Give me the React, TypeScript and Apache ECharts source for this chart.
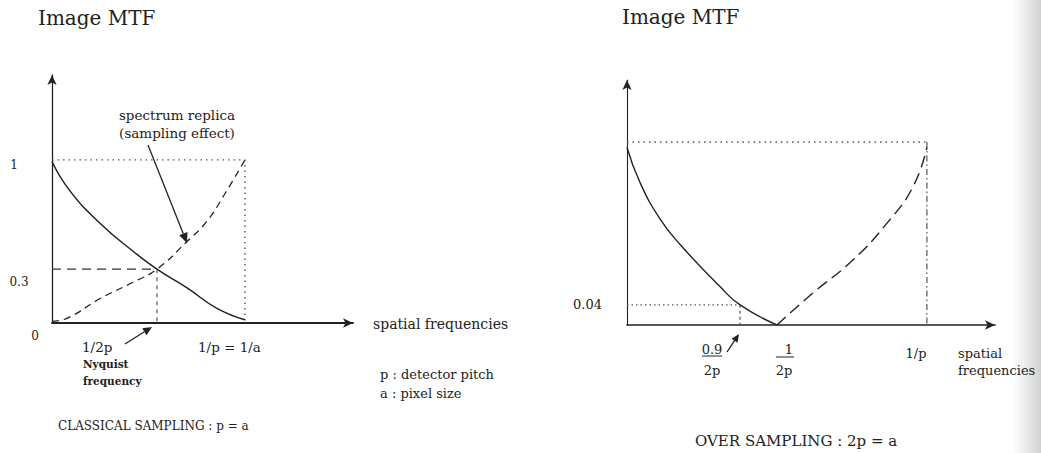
import React, { useEffect, useRef } from "react";
import * as echarts from "echarts";

// ---- data (dimensionless: 1/p = 1, top of MTF = 1) ----
// Classical sampling (left panel)
const LEFT_FREQ = [0, 0.093, 0.25, 0.42, 0.544, 0.7, 0.855, 1.0];
const LEFT_MTF = [0.99, 0.81, 0.61, 0.44, 0.33, 0.215, 0.09, 0.02];
const LEFT_REPLICA_FREQ = [0, 0.08, 0.25, 0.42, 0.544, 0.7, 0.8, 0.9, 1.0];
const LEFT_REPLICA = [0.01, 0.03, 0.15, 0.25, 0.33, 0.5, 0.62, 0.8, 1.0];
const LEFT_NYQUIST = 0.544;
const LEFT_CROSS = 0.33;

// Over sampling (right panel)
const RIGHT_FREQ = [0, 0.043, 0.11, 0.177, 0.31, 0.377, 0.5];
const RIGHT_MTF = [0.97, 0.78, 0.58, 0.44, 0.21, 0.11, 0.0];
const RIGHT_REPLICA_FREQ = [0.5, 0.62, 0.753, 0.867, 0.953, 1.0];
const RIGHT_REPLICA = [0.0, 0.175, 0.355, 0.557, 0.754, 0.97];
const RIGHT_MARK_FREQ = 0.377;
const RIGHT_MARK_LEVEL = 0.11;

const TOP_LEVEL = 1;
const INV_P = 1;

const zip = (xs: number[], ys: number[]) => xs.map((x, i) => [x, ys[i]]);

const SERIF = "'DejaVu Serif', 'Liberation Serif', serif";
const INK = "#222";

function arrow(x1: number, y1: number, x2: number, y2: number, head = 8) {
  const a = Math.atan2(y2 - y1, x2 - x1);
  const w = head * 0.45;
  const bx = x2 - head * Math.cos(a);
  const by = y2 - head * Math.sin(a);
  return [
    { type: "line", shape: { x1, y1, x2: bx, y2: by }, style: { stroke: INK, lineWidth: 1.3 }, silent: true },
    {
      type: "polygon",
      shape: {
        points: [
          [x2, y2],
          [bx + w * Math.sin(a), by - w * Math.cos(a)],
          [bx - w * Math.sin(a), by + w * Math.cos(a)],
        ],
      },
      style: { fill: INK },
      silent: true,
    },
  ];
}

function txt(text: string, x: number, y: number, size: number, align = "left", extra: any = {}) {
  return {
    type: "text",
    x,
    y,
    silent: true,
    style: {
      text,
      fill: INK,
      font: `${extra.bold ? "bold " : ""}${size}px ${extra.family || SERIF}`,
      textAlign: align,
      textVerticalAlign: "middle",
    },
  };
}

function hline(x1: number, x2: number, y: number) {
  return { type: "line", shape: { x1, y1: y, x2, y2: y }, style: { stroke: INK, lineWidth: 1 }, silent: true };
}

export default function App() {
  const ref = useRef<HTMLDivElement>(null);

  useEffect(() => {
    if (!ref.current) return;
    const chart = echarts.init(ref.current, undefined, { renderer: "svg" });

    const axisLine = (w: number) => ({
      show: true,
      onZero: true,
      symbol: ["none", "arrow"],
      symbolSize: [7, 10],
      lineStyle: { color: INK, width: w },
    });
    const hidden = {
      axisTick: { show: false },
      axisLabel: { show: false },
      splitLine: { show: false },
    };

    const guide = (xi: number, data: number[][], type: any, color = "#555", width = 1.4) => ({
      type: "line",
      xAxisIndex: xi,
      yAxisIndex: xi,
      data,
      symbol: "none",
      silent: true,
      lineStyle: { color, width, type },
      z: 1,
    });

    const curve = (xi: number, data: number[][], type: any, width = 1.4) => ({
      type: "line",
      xAxisIndex: xi,
      yAxisIndex: xi,
      data,
      symbol: "none",
      smooth: 0.5,
      silent: true,
      lineStyle: { color: INK, width, type },
      z: 3,
    });

    chart.setOption({
      animation: false,
      backgroundColor: "#ffffff",
      grid: [
        { left: 52, right: 688, top: 75, bottom: 130 },
        { left: 627, right: 46, top: 80, bottom: 128 },
      ],
      xAxis: [
        { type: "value", gridIndex: 0, min: 0, max: 1.56, axisLine: axisLine(1.8), ...hidden },
        { type: "value", gridIndex: 1, min: 0, max: 1.227, axisLine: axisLine(1.6), ...hidden },
      ],
      yAxis: [
        { type: "value", gridIndex: 0, min: 0, max: 1.52, axisLine: axisLine(1.3), ...hidden },
        { type: "value", gridIndex: 1, min: 0, max: 1.339, axisLine: axisLine(1.1), ...hidden },
      ],
      series: [
        // left guides
        guide(0, [[0, TOP_LEVEL], [INV_P, TOP_LEVEL], [INV_P, 0]], [1.5, 4]),
        guide(0, [[0, LEFT_CROSS], [LEFT_NYQUIST, LEFT_CROSS]], [9, 6], "#333", 1.3),
        guide(0, [[LEFT_NYQUIST, LEFT_CROSS], [LEFT_NYQUIST, 0]], [4, 4], "#444", 1.1),
        // left curves
        curve(0, zip(LEFT_FREQ, LEFT_MTF), "solid", 1.5),
        curve(0, zip(LEFT_REPLICA_FREQ, LEFT_REPLICA), [7, 5], 1.3),
        // right guides
        guide(1, [[0, TOP_LEVEL], [INV_P, TOP_LEVEL]], [1.5, 4]),
        guide(1, [[INV_P, TOP_LEVEL], [INV_P, 0]], [6, 3, 1.5, 3], "#444", 1.1),
        guide(1, [[0, RIGHT_MARK_LEVEL], [RIGHT_MARK_FREQ, RIGHT_MARK_LEVEL]], [1.5, 3], "#555", 1.2),
        guide(1, [[RIGHT_MARK_FREQ, RIGHT_MARK_LEVEL], [RIGHT_MARK_FREQ, 0]], [3, 3], "#444", 1.1),
        // right curves
        curve(1, zip(RIGHT_FREQ, RIGHT_MTF), "solid", 1.4),
        curve(1, zip(RIGHT_REPLICA_FREQ, RIGHT_REPLICA), [12, 6], 1.4),
      ],
      graphic: [
        // scanned page edge
        {
          type: "rect",
          shape: { x: 1012, y: 0, width: 29, height: 453 },
          style: {
            fill: new echarts.graphic.LinearGradient(0, 0, 1, 0, [
              { offset: 0, color: "rgba(210,210,210,0)" },
              { offset: 1, color: "rgba(200,200,200,0.85)" },
            ]),
          },
          silent: true,
          z: 0,
        },
        // left panel texts
        txt("Image MTF", 38, 18, 20),
        txt("spectrum replica", 177, 115, 13.5, "center"),
        txt("(sampling effect)", 177, 133, 13.5, "center"),
        ...arrow(148, 145, 187, 243, 10),
        txt("1", 14, 165, 12, "center"),
        txt("0.3", 19, 282, 12, "center"),
        txt("0", 35, 336, 12, "center"),
        txt("1/2p", 82, 347, 13.5),
        ...arrow(125, 344, 152, 327, 9),
        txt("Nyquist", 83, 364, 10.5, "left", { bold: true }),
        txt("frequency", 83, 381, 10.5, "left", { bold: true }),
        txt("1/p = 1/a", 198, 347, 13.5),
        txt("spatial frequencies", 373, 324, 14),
        txt("p : detector pitch", 380, 374, 13),
        txt("a : pixel size", 380, 393, 13),
        txt("CLASSICAL SAMPLING : p = a", 58, 426, 12),
        // right panel texts
        txt("Image MTF", 622, 17, 20),
        txt("0.04", 573, 304, 13),
        txt("0.9", 712, 349, 13, "center"),
        hline(702, 722, 356),
        txt("2p", 712, 370, 13, "center"),
        ...arrow(727, 352, 739, 334, 8),
        txt("1", 789, 349, 13, "center"),
        hline(776, 794, 357),
        txt("2p", 784, 370, 13, "center"),
        txt("1/p", 916, 353, 13, "center"),
        txt("spatial", 958, 353, 13),
        txt("frequencies", 958, 370, 13),
        txt("OVER SAMPLING : 2p = a", 695, 441, 15),
      ],
    });

    return () => chart.dispose();
  }, []);

  return (
    <div
      ref={ref}
      style={{ position: "absolute", left: 0, top: 0, width: 1041, height: 453 }}
    />
  );
}
